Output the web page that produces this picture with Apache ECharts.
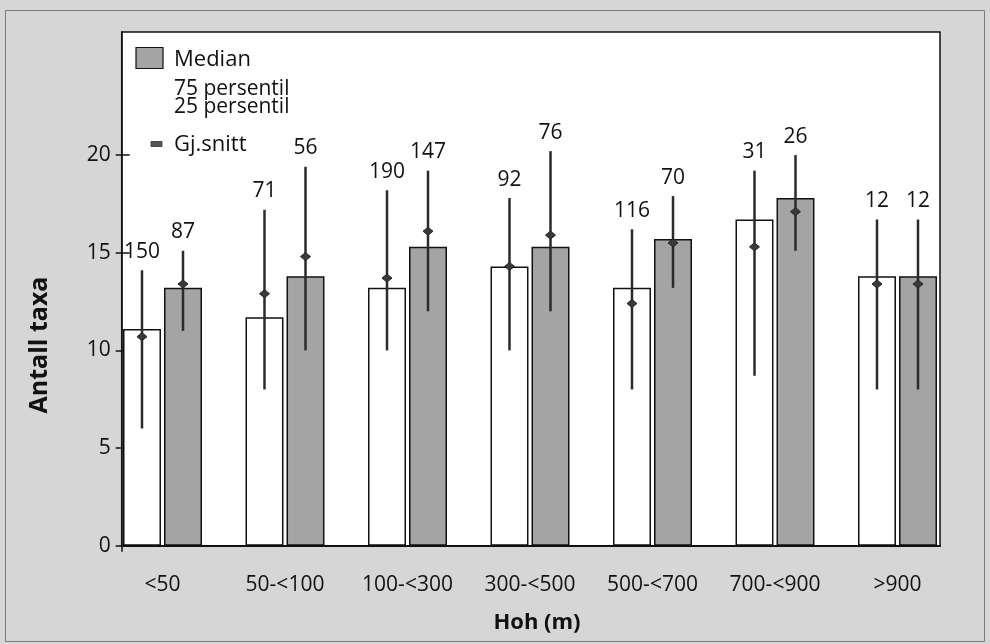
<!DOCTYPE html>
<html>
<head>
<meta charset="utf-8">
<title>Antall taxa etter høydelag</title>
<script src="https://cdn.jsdelivr.net/npm/echarts@6/dist/echarts.min.js"></script>
<style>
  html, body { margin: 0; padding: 0; background: #d6d6d6; }
  #chart { width: 990px; height: 644px; }
</style>
</head>
<body>
<div id="chart"></div>
<script>
// Høydelag (m o.h.)
const categories = ['<50', '50-<100', '100-<300', '300-<500', '500-<700', '700-<900', '>900'];

// Første gruppe (hvite søyler)
const medianA = [11.1, 11.7, 13.2, 14.3, 13.2, 16.7, 13.8];
const p25A    = [6, 8, 10, 10, 8, 8.7, 8];
const p75A    = [14.1, 17.2, 18.2, 17.8, 16.2, 19.2, 16.7];
const meanA   = [10.7, 12.9, 13.7, 14.3, 12.4, 15.3, 13.4];
const countA  = [150, 71, 190, 92, 116, 31, 12];

// Andre gruppe (grå søyler)
const medianB = [13.2, 13.8, 15.3, 15.3, 15.7, 17.8, 13.8];
const p25B    = [11, 10, 12, 12, 13.2, 15.1, 8];
const p75B    = [15.1, 19.4, 19.2, 20.2, 17.9, 20, 16.7];
const meanB   = [13.4, 14.8, 16.1, 15.9, 15.5, 17.1, 13.4];
const countB  = [87, 56, 147, 76, 70, 26, 12];

// Y-akse
const yTicks = [0, 5, 10, 15, 20];
const yMax = 26.3;

const FONT = "'Open Sans', 'Noto Sans', sans-serif";
const INK = '#111111';
const BAR_GRAY = '#a4a4a4';
const BAR_W = 0.31;   // andel av kategoribredden
const BAR_GAP = 0.08; // andel av søylebredden

const chart = echarts.init(document.getElementById('chart'));

// Persentil-linje, gjennomsnitt (rombe) og antall over hver søyle
function errorRenderer(side) {
  return function (params, api) {
    const idx = api.value(0);
    const band = api.size([1, 0])[0];
    const offset = side * band * BAR_W * (1 + BAR_GAP) / 2;
    const top = api.coord([idx, api.value(2)]);
    const bottom = api.coord([idx, api.value(1)]);
    const mean = api.coord([idx, api.value(3)]);
    const x = top[0] + offset;
    const dw = 5, dh = 4;
    return {
      type: 'group',
      children: [
        {
          type: 'line',
          shape: { x1: x, y1: top[1], x2: x, y2: bottom[1] },
          style: { stroke: '#2b2b2b', lineWidth: 2.5 }
        },
        {
          type: 'polygon',
          shape: { points: [[x - dw, mean[1]], [x, mean[1] - dh], [x + dw, mean[1]], [x, mean[1] + dh]] },
          style: { fill: '#3a3a3a', stroke: '#222', lineWidth: 1 }
        },
        {
          type: 'text',
          x: x,
          y: top[1] - 8,
          style: {
            text: String(api.value(4)),
            font: '21px ' + FONT,
            fill: INK,
            align: 'center',
            verticalAlign: 'bottom'
          }
        }
      ]
    };
  };
}

const errA = categories.map((c, i) => [i, p25A[i], p75A[i], meanA[i], countA[i]]);
const errB = categories.map((c, i) => [i, p25B[i], p75B[i], meanB[i], countB[i]]);

const option = {
  backgroundColor: '#d6d6d6',
  animation: false,
  textStyle: { fontFamily: FONT },
  grid: [
    // plotramme med akser
    { left: 121.7, right: 50, top: 32, bottom: 98.3, show: true,
      backgroundColor: '#ffffff', borderColor: '#111', borderWidth: 1.5 },
    // søyleområde
    { left: 101.25, right: 31.25, top: 32, bottom: 98.3 }
  ],
  xAxis: [
    { gridIndex: 0, type: 'value', min: 0, max: 1,
      axisLine: { show: true, onZero: false, lineStyle: { color: '#111', width: 2 } },
      axisTick: { show: true, length: 6, customValues: [0], lineStyle: { color: '#111', width: 1.5 } },
      axisLabel: { show: false }, splitLine: { show: false } },
    { gridIndex: 1, type: 'category', data: categories, boundaryGap: true,
      axisLine: { show: false }, axisTick: { show: false }, splitLine: { show: false },
      axisLabel: { fontSize: 21, fontFamily: FONT, color: INK, margin: 29 } }
  ],
  yAxis: [
    { gridIndex: 0, type: 'value', min: 0, max: yMax,
      axisLine: { show: true, lineStyle: { color: '#111', width: 1.5 } },
      axisTick: { show: true, length: 6, customValues: yTicks, lineStyle: { color: '#111', width: 1.5 } },
      axisLabel: { customValues: yTicks, fontSize: 21, fontFamily: FONT, color: INK, margin: 11 },
      splitLine: { show: false } },
    { gridIndex: 0, type: 'value', min: 0, max: yMax, position: 'left',
      axisLine: { show: false },
      axisTick: { show: true, inside: true, length: 8, customValues: yTicks, lineStyle: { color: '#111', width: 1.5 } },
      axisLabel: { show: false }, splitLine: { show: false } },
    { gridIndex: 1, type: 'value', min: 0, max: yMax, show: false }
  ],
  series: [
    { type: 'bar', xAxisIndex: 1, yAxisIndex: 2, data: medianA,
      barWidth: (BAR_W * 100) + '%', barGap: (BAR_GAP * 100) + '%',
      itemStyle: { color: '#ffffff', borderColor: '#111', borderWidth: 1.5 } },
    { type: 'bar', xAxisIndex: 1, yAxisIndex: 2, data: medianB,
      barWidth: (BAR_W * 100) + '%', barGap: (BAR_GAP * 100) + '%',
      itemStyle: { color: BAR_GRAY, borderColor: '#111', borderWidth: 1.5 } },
    { type: 'custom', xAxisIndex: 1, yAxisIndex: 2, data: errA,
      renderItem: errorRenderer(-1), z: 5 },
    { type: 'custom', xAxisIndex: 1, yAxisIndex: 2, data: errB,
      renderItem: errorRenderer(1), z: 5 }
  ],
  graphic: [
    // ytre ramme
    { type: 'rect', shape: { x: 5.5, y: 10.5, width: 979, height: 631 },
      style: { fill: 'none', stroke: '#7a7a7a', lineWidth: 1 }, silent: true },
    // tegnforklaring
    { type: 'rect', shape: { x: 136, y: 47.5, width: 27, height: 21 },
      style: { fill: BAR_GRAY, stroke: '#111', lineWidth: 1.2 } },
    { type: 'text', x: 174, y: 60, style: { text: 'Median', font: '22px ' + FONT, fill: INK, align: 'left', verticalAlign: 'middle' } },
    { type: 'text', x: 174, y: 89, style: { text: '75 persentil', font: '21px ' + FONT, fill: INK, align: 'left', verticalAlign: 'middle' } },
    { type: 'text', x: 174, y: 107, style: { text: '25 persentil', font: '21px ' + FONT, fill: INK, align: 'left', verticalAlign: 'middle' } },
    { type: 'rect', shape: { x: 151, y: 141.5, width: 11, height: 5 },
      style: { fill: '#555', stroke: '#333', lineWidth: 0.8 } },
    { type: 'text', x: 174, y: 145, style: { text: 'Gj.snitt', font: '22px ' + FONT, fill: INK, align: 'left', verticalAlign: 'middle' } },
    // aksetitler
    { type: 'text', x: 40, y: 345, rotation: Math.PI / 2,
      style: { text: 'Antall taxa', font: 'bold 25px ' + FONT, fill: INK, align: 'center', verticalAlign: 'middle' } },
    { type: 'text', x: 537, y: 623,
      style: { text: 'Hoh (m)', font: 'bold 22px ' + FONT, fill: INK, align: 'center', verticalAlign: 'middle' } }
  ]
};

chart.setOption(option);
</script>
</body>
</html>
